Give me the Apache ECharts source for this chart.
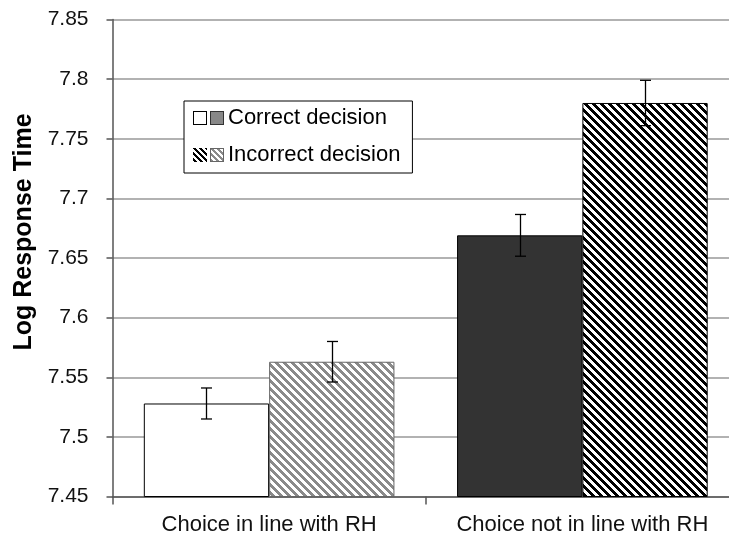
<!DOCTYPE html>
<html>
<head>
<meta charset="utf-8">
<script src="https://cdn.jsdelivr.net/npm/echarts@6/dist/echarts.min.js"></script>
<style>
  html, body { margin: 0; padding: 0; background: #fff; overflow: hidden; }
  /* the plot runs a little past the right edge of the window */
  #chart { width: 740px; height: 542px; }
</style>
</head>
<body>
<div id="chart"></div>
<script>
// Group labels along the x axis
const categories = ['Choice in line with RH', 'Choice not in line with RH'];
// Mean log response times and their error bar half-widths
const correctMeans = [7.528, 7.669];
const correctErrors = [0.013, 0.0175];
const incorrectMeans = [7.563, 7.780];
const incorrectErrors = [0.017, 0.019];
// Value axis range
const yMin = 7.45;
const yMax = 7.85;
const yStep = 0.05;

const FONT = '"Liberation Sans", Arial, sans-serif';

// Diagonal "\" stripes painted pixel by pixel into a canvas
function hatchCanvas(w, h, fg, bg, period, on) {
  const c = document.createElement('canvas');
  c.width = w; c.height = h;
  const ctx = c.getContext('2d');
  ctx.fillStyle = bg;
  ctx.fillRect(0, 0, w, h);
  ctx.fillStyle = fg;
  for (let y = 0; y < h; y++) {
    for (let x = 0; x < w; x++) {
      if ((((x - y) % period) + period) % period < on) ctx.fillRect(x, y, 1, 1);
    }
  }
  return c;
}
function solidCanvas(w, h, fill, stroke) {
  const c = document.createElement('canvas');
  c.width = w; c.height = h;
  const ctx = c.getContext('2d');
  ctx.fillStyle = fill;
  ctx.fillRect(0, 0, w, h);
  if (stroke) {
    ctx.strokeStyle = stroke;
    ctx.lineWidth = 1;
    ctx.strokeRect(0.5, 0.5, w - 1, h - 1);
  }
  return c;
}

const grayHatch = { image: hatchCanvas(8, 8, '#8a8a8a', '#ffffff', 8, 4), repeat: 'repeat' };
const blackHatch = { image: hatchCanvas(8, 8, '#000000', '#ffffff', 8, 4), repeat: 'repeat' };

const correctStyles = [
  { color: '#ffffff', borderColor: '#000000', borderWidth: 1 },
  { color: '#333333', borderColor: '#000000', borderWidth: 1 }
];
const incorrectStyles = [
  { color: grayHatch, borderColor: '#666666', borderWidth: 1 },
  { color: blackHatch, borderColor: '#000000', borderWidth: 1 }
];

const BAR_GAP_PCT = 20;

// error bar records: [categoryIndex, mean, halfWidth, slot]
const errorData = [];
correctMeans.forEach((m, i) => errorData.push([i, m, correctErrors[i], 0]));
incorrectMeans.forEach((m, i) => errorData.push([i, m, incorrectErrors[i], 1]));

function renderErrorBar(params, api) {
  const cat = api.value(0);
  const mean = api.value(1);
  const err = api.value(2);
  const slot = api.value(3);
  const band = api.size([1, 0])[0];
  const barW = band * (1 - BAR_GAP_PCT / 100) / 2;
  const cx = api.coord([cat, mean])[0] + (slot === 0 ? -barW / 2 : barW / 2);
  const x = Math.round(cx) + 0.5;
  const top = api.coord([cat, mean + err])[1];
  const bot = api.coord([cat, mean - err])[1];
  const cap = 5.5;
  const style = { stroke: '#000', lineWidth: 1.3 };
  return {
    type: 'group',
    children: [
      { type: 'line', shape: { x1: x, y1: top, x2: x, y2: bot }, style },
      { type: 'line', shape: { x1: x - cap, y1: top, x2: x + cap, y2: top }, style },
      { type: 'line', shape: { x1: x - cap, y1: bot, x2: x + cap, y2: bot }, style }
    ]
  };
}

const swatch = 14;
const legendRich = {
  w: { width: swatch, height: swatch, backgroundColor: { image: solidCanvas(swatch, swatch, '#ffffff', '#000000') } },
  g: { width: swatch, height: swatch, backgroundColor: { image: solidCanvas(swatch, swatch, '#888888', '#333333') } },
  bh: { width: swatch, height: swatch, backgroundColor: { image: hatchCanvas(swatch, swatch, '#000000', '#ffffff', 6, 3) } },
  gh: { width: swatch, height: swatch, backgroundColor: { image: (function () {
    const c = hatchCanvas(swatch, swatch, '#8a8a8a', '#ffffff', 6, 3);
    const ctx = c.getContext('2d');
    ctx.strokeStyle = '#666'; ctx.lineWidth = 1; ctx.strokeRect(0.5, 0.5, swatch - 1, swatch - 1);
    return c;
  })() } },
  sp: { width: 3 },
  t: { fontSize: 22, fontFamily: FONT, color: '#000', padding: [0, 0, 0, 4] }
};

const chart = echarts.init(document.getElementById('chart'), null, { renderer: 'canvas' });
chart.setOption({
  animation: false,
  backgroundColor: '#ffffff',
  grid: { left: 112.5, top: 19.5, width: 626.5, height: 477, containLabel: false },
  legend: {
    data: ['Correct decision', 'Incorrect decision'],
    orient: 'vertical',
    left: 184,
    top: 101,
    icon: 'none',
    itemWidth: 0,
    itemHeight: 24,
    itemGap: 14,
    padding: [5, 12, 7, 4],
    backgroundColor: '#ffffff',
    borderColor: '#000000',
    borderWidth: 1,
    borderRadius: 0,
    selectedMode: false,
    textStyle: { fontSize: 22, fontFamily: FONT, color: '#000', rich: legendRich },
    formatter: function (name) {
      return name === 'Correct decision'
        ? '{w|}{sp|}{g|}{t|' + name + '}'
        : '{bh|}{sp|}{gh|}{t|' + name + '}';
    }
  },
  xAxis: {
    type: 'category',
    data: categories,
    boundaryGap: true,
    axisLine: { show: true, lineStyle: { color: '#555', width: 1.5 } },
    axisTick: { show: true, alignWithLabel: false, length: 8, lineStyle: { color: '#555', width: 1.5 } },
    axisLabel: { interval: 0, fontSize: 22, fontFamily: FONT, color: '#111', margin: 17 },
    splitLine: { show: false }
  },
  yAxis: {
    type: 'value',
    min: yMin,
    max: yMax,
    interval: yStep,
    name: 'Log Response Time',
    nameLocation: 'middle',
    nameGap: 75,
    nameTextStyle: { fontSize: 25, fontWeight: 'bold', fontFamily: FONT, color: '#000', padding: [0, 0, 0, 52] },
    axisLine: { show: true, lineStyle: { color: '#555', width: 1.5 } },
    axisTick: { show: true, inside: false, length: 6, lineStyle: { color: '#555', width: 1.5 } },
    axisLabel: {
      fontSize: 21, fontFamily: FONT, color: '#111', margin: 24,
      formatter: v => String(+v.toFixed(2))
    },
    splitLine: { show: true, lineStyle: { color: '#999', width: 1.5 } }
  },
  series: [
    {
      name: 'Correct decision',
      type: 'bar',
      barGap: '0%',
      barCategoryGap: BAR_GAP_PCT + '%',
      data: correctMeans.map((v, i) => ({ value: v, itemStyle: correctStyles[i] }))
    },
    {
      name: 'Incorrect decision',
      type: 'bar',
      barGap: '0%',
      barCategoryGap: BAR_GAP_PCT + '%',
      data: incorrectMeans.map((v, i) => ({ value: v, itemStyle: incorrectStyles[i] }))
    },
    {
      name: 'error',
      type: 'custom',
      renderItem: renderErrorBar,
      data: errorData,
      z: 10,
      silent: true
    }
  ]
});
</script>
</body>
</html>
